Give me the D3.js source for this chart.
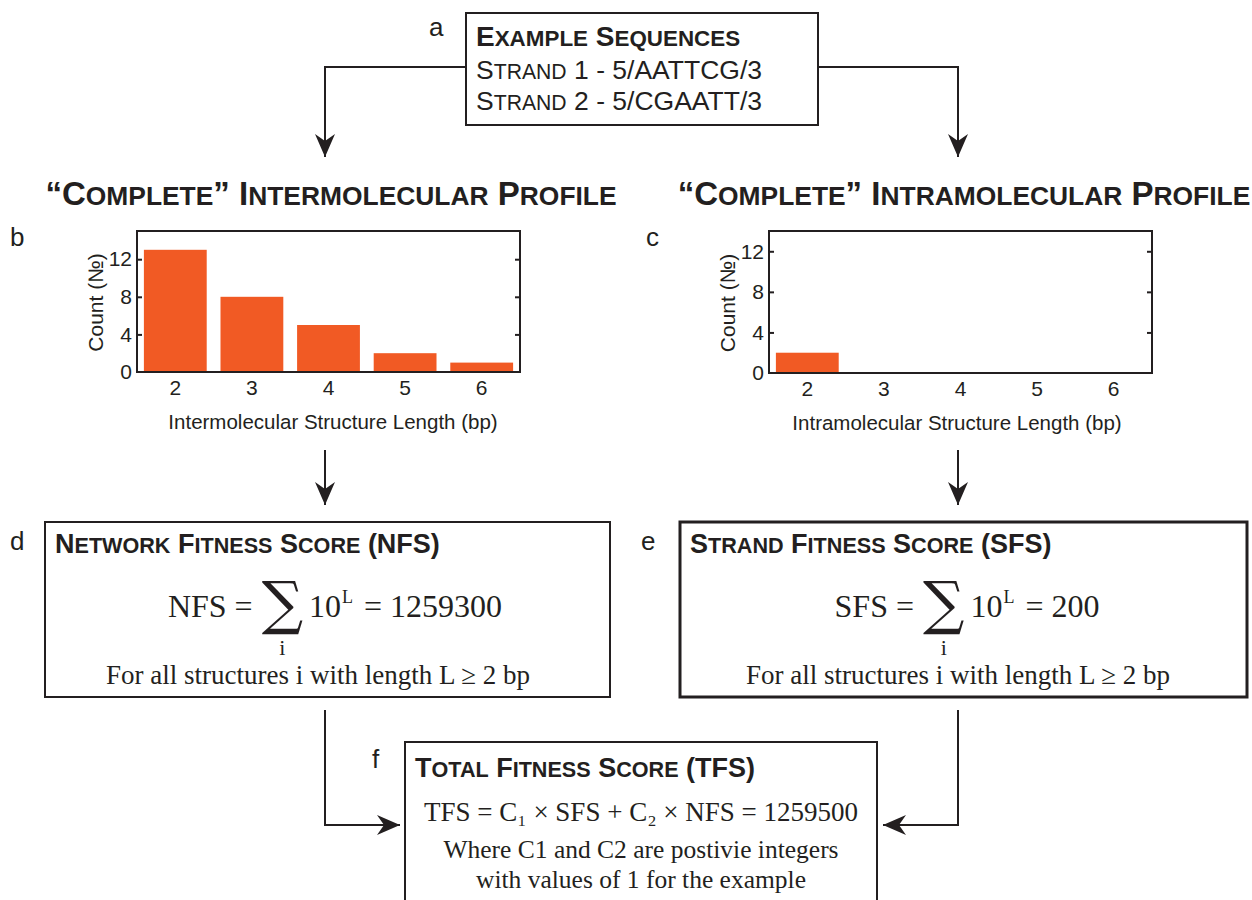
<!DOCTYPE html>
<html><head><meta charset="utf-8">
<script src="https://cdn.jsdelivr.net/npm/d3@7"></script>
<style>body{margin:0;background:#fff} svg{display:block}</style>
</head><body>
<svg id="fig" width="1252" height="900"></svg>
<script>
// Structure lengths (bp) and the number of structures found at each length
const lengths = [2, 3, 4, 5, 6];
const interCounts = [13, 8, 5, 2, 1];
const intraCounts = [2, 0, 0, 0, 0];
const countTicks = [0, 4, 8, 12];
const strands = ["Strand 1 - 5/AATTCG/3", "Strand 2 - 5/CGAATT/3"];
const C1 = 1, C2 = 1;

// Fitness scores: sum of 10^L over all structures
const score = counts => d3.sum(counts, (c, i) => c * Math.pow(10, lengths[i]));
const NFS = score(interCounts);
const SFS = score(intraCounts);
const TFS = C1 * SFS + C2 * NFS;

const INK = "#231f20", BAR = "#f15a24";
const SANS = "'Liberation Sans', Arial, sans-serif";
const SERIF = "'Liberation Serif', 'Times New Roman', serif";

const svg = d3.select("#fig");
const defs = svg.append("defs");
defs.append("marker").attr("id", "arrow")
  .attr("viewBox", "-24 -12 26 24").attr("refX", 0).attr("refY", 0)
  .attr("markerWidth", 26).attr("markerHeight", 24)
  .attr("markerUnits", "userSpaceOnUse").attr("orient", "auto")
  .append("path").attr("d", "M0,0 L-23,-10 L-16,0 L-23,10 Z").attr("fill", INK);

// Write a string in small caps: lowercase letters become smaller capitals
function smallCaps(text, str, size, ratio = 0.8) {
  const runs = [];
  for (const ch of str) {
    const small = ch !== ch.toUpperCase();
    if (runs.length && runs[runs.length - 1].small === small) runs[runs.length - 1].s += ch;
    else runs.push({ small, s: ch });
  }
  runs.forEach(r => text.append("tspan")
    .attr("font-size", r.small ? size * ratio : size)
    .text(r.small ? r.s.toUpperCase() : r.s));
  return text;
}

function label(x, y, t, size = 26) {
  svg.append("text").attr("x", x).attr("y", y).attr("font-family", SANS)
    .attr("font-size", size).attr("fill", INK).text(t);
}

function connector(points) {
  svg.append("path").attr("d", d3.line()(points)).attr("fill", "none")
    .attr("stroke", INK).attr("stroke-width", 2).attr("marker-end", "url(#arrow)");
}

function box(x0, y0, x1, y1, w = 2) {
  svg.append("rect").attr("x", x0).attr("y", y0).attr("width", x1 - x0).attr("height", y1 - y0)
    .attr("fill", "none").attr("stroke", INK).attr("stroke-width", w);
}

function boxTitle(x, y, t) {
  smallCaps(svg.append("text").attr("x", x).attr("y", y).attr("font-family", SANS)
    .attr("font-weight", "bold").attr("fill", INK), t, 27);
}

function serifLine(cx, y, t, size) {
  svg.append("text").attr("x", cx).attr("y", y).attr("text-anchor", "middle")
    .attr("font-family", SERIF).attr("font-size", size).attr("fill", INK).text(t);
}

// Lay out a row of formula pieces centred on cx
function mathRow(cx, y, parts) {
  const nodes = parts.map(p => svg.append("text")
    .attr("font-family", p.family || SERIF).attr("font-size", p.size)
    .attr("fill", INK).attr("y", y + (p.dy || 0)).text(p.t));
  const widths = nodes.map(n => n.node().getComputedTextLength());
  const total = d3.sum(widths) + d3.sum(parts, p => p.gap || 0);
  let x = cx - total / 2;
  nodes.forEach((n, i) => {
    x += parts[i].gap || 0;
    n.attr("x", x);
    parts[i].x = x; parts[i].w = widths[i];
    x += widths[i];
  });
  return parts;
}

function sumFormula(cx, y, name, value) {
  const p = mathRow(cx, y, [
    { t: name + " =", size: 32 },
    { t: "\u2211", size: 58, dy: 6, gap: 9, family: "'DejaVu Serif', serif" },
    { t: "10", size: 32, gap: 6 },
    { t: "L", size: 18, dy: -14, gap: 1 },
    { t: "= " + value, size: 32, gap: 11 }
  ]);
  svg.append("text").attr("x", p[1].x + p[1].w / 2).attr("y", y + 38)
    .attr("text-anchor", "middle").attr("font-family", SERIF).attr("font-size", 22)
    .attr("fill", INK).text("i");
}

// ---- a: example sequences ----
label(429, 36, "a");
box(466, 13, 818, 125);
smallCaps(svg.append("text").attr("x", 476).attr("y", 46).attr("font-family", SANS)
  .attr("font-weight", "bold").attr("fill", INK), "Example Sequences", 28);
strands.forEach((s, i) => smallCaps(svg.append("text").attr("x", 476).attr("y", 79 + i * 31)
  .attr("font-family", SANS).attr("fill", INK), s, 26.5));
connector([[466, 67], [325, 67], [325, 157]]);
connector([[818, 67], [958, 67], [958, 157]]);

// ---- profile titles ----
[[331, "\u201cComplete\u201d Intermolecular Profile"], [964, "\u201cComplete\u201d Intramolecular Profile"]]
  .forEach(([cx, t]) => smallCaps(svg.append("text").attr("x", cx).attr("y", 205)
    .attr("text-anchor", "middle").attr("font-family", SANS).attr("font-weight", "bold")
    .attr("fill", INK), t, 33));

// ---- b, c: count histograms ----
function histogram(x0, x1, y0, y1, yMax, counts, xTitle, titleCx) {
  const x = d3.scaleBand().domain(lengths).range([x0, x1]).paddingInner(0.18).paddingOuter(0.09);
  const y = d3.scaleLinear().domain([0, yMax]).range([y1, y0]);
  const g = svg.append("g");
  g.selectAll("rect.bar").data(lengths).join("rect").attr("class", "bar")
    .attr("x", d => x(d)).attr("width", x.bandwidth())
    .attr("y", (d, i) => y(counts[i])).attr("height", (d, i) => y(0) - y(counts[i]))
    .attr("fill", BAR);

  const left = g.append("g").attr("transform", `translate(${x0},0)`)
    .call(d3.axisLeft(y).tickValues(countTicks).tickSize(-5).tickPadding(5));
  const right = g.append("g").attr("transform", `translate(${x1},0)`)
    .call(d3.axisRight(y).tickValues(countTicks).tickSize(-5).tickFormat(""));
  const bottom = g.append("g").attr("transform", `translate(0,${y1})`)
    .call(d3.axisBottom(x).tickSize(0).tickPadding(8));
  [left, right, bottom].forEach(a => {
    a.select(".domain").remove();
    a.selectAll("line").attr("stroke", INK).attr("stroke-width", 2);
    a.selectAll("text").attr("font-family", SANS).attr("font-size", 21).attr("fill", INK);
  });
  left.selectAll(".tick line").filter(d => d === 0).remove();
  right.selectAll(".tick line").filter(d => d === 0).remove();

  g.append("rect").attr("x", x0).attr("y", y0).attr("width", x1 - x0).attr("height", y1 - y0)
    .attr("fill", "none").attr("stroke", INK).attr("stroke-width", 2);

  g.append("text").attr("transform", `translate(${x0 - 34},${(y0 + y1) / 2 + 1}) rotate(-90)`)
    .attr("text-anchor", "middle").attr("font-family", SANS).attr("font-size", 21)
    .attr("fill", INK).text("Count (\u2116)");
  g.append("text").attr("x", titleCx).attr("y", y1 + 57)
    .attr("text-anchor", "middle").attr("font-family", SANS).attr("font-size", 20.5)
    .attr("fill", INK).text(xTitle);
}

label(10, 246, "b");
histogram(137, 520, 231, 372, 15, interCounts, "Intermolecular Structure Length (bp)", 333);
label(646, 246, "c");
histogram(769, 1152, 231, 373, 14, intraCounts, "Intramolecular Structure Length (bp)", 957);

connector([[325, 450], [325, 505]]);
connector([[958, 450], [958, 505]]);

// ---- d: network fitness score ----
label(10, 550, "d");
box(45, 522, 610, 697);
boxTitle(55, 553, "Network Fitness Score (NFS)");
sumFormula(335, 617, "NFS", NFS);
serifLine(318, 684, "For all structures i with length L \u2265 2 bp", 27);

// ---- e: strand fitness score ----
label(641, 550, "e");
box(680, 522, 1247, 697, 3);
boxTitle(690, 553, "Strand Fitness Score (SFS)");
sumFormula(967, 617, "SFS", SFS);
serifLine(958, 684, "For all structures i with length L \u2265 2 bp", 27);

connector([[325, 710], [325, 825], [400, 825]]);
connector([[958, 710], [958, 825], [883, 825]]);

// ---- f: total fitness score ----
label(372, 768, "f");
box(405, 742, 877, 910);
boxTitle(415, 777, "Total Fitness Score (TFS)");
serifLine(641, 821, "TFS = C\u2081 \u00d7 SFS + C\u2082 \u00d7 NFS = " + TFS, 27);
serifLine(641, 858, "Where C1 and C2 are postivie integers", 25.5);
serifLine(641, 888, "with values of 1 for the example", 25.5);
</script>
</body></html>
